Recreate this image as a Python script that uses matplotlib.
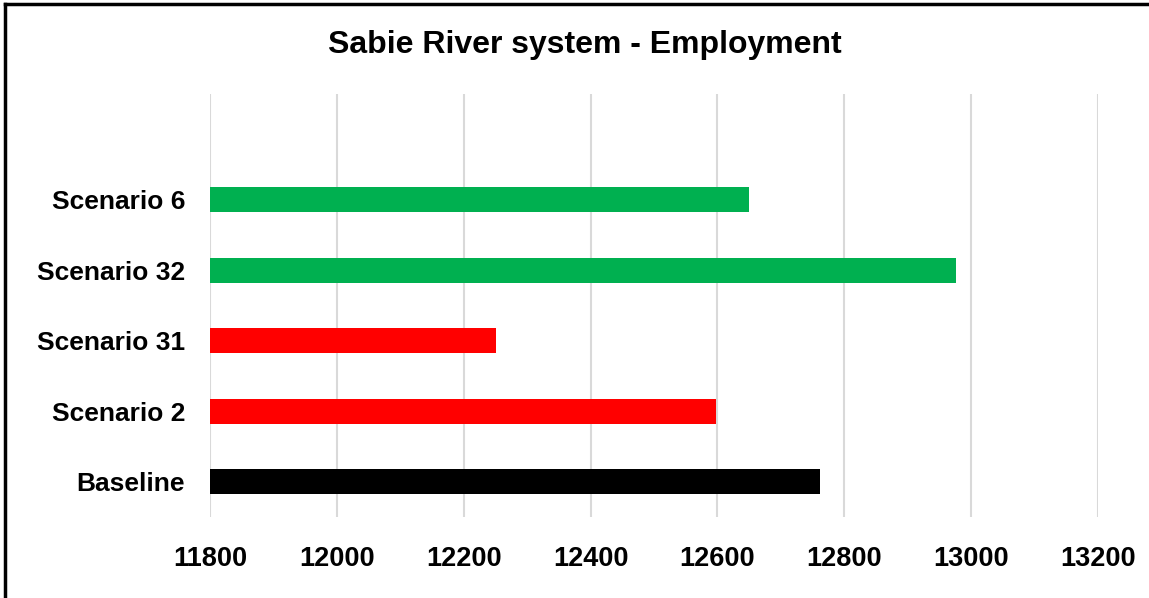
import matplotlib

matplotlib.use("Agg")
import matplotlib.pyplot as plt
from matplotlib.lines import Line2D

# data (bottom to top)
categories = ["Baseline", "Scenario 2", "Scenario 31", "Scenario 32", "Scenario 6"]
employment = [12762, 12598, 12251, 12976, 12650]
bar_colors = ["#000000", "#ff0000", "#ff0000", "#00b050", "#00b050"]
x_ticks = [11800, 12000, 12200, 12400, 12600, 12800, 13000, 13200]

plt.rcParams["font.family"] = ["Liberation Sans", "DejaVu Sans"]

fig = plt.figure(figsize=(11.49, 5.98), dpi=100)
ax = fig.add_axes([210 / 1149, 1 - 517 / 598, 888 / 1149, 423 / 598])

ys = list(range(len(categories)))
ax.barh(ys, [v - x_ticks[0] for v in employment], left=x_ticks[0],
        height=0.35, color=bar_colors, zorder=3)

ax.set_xlim(x_ticks[0], x_ticks[-1])
ax.set_ylim(-0.5, len(categories) + 0.5)  # empty slot above the top bar
ax.set_xticks(x_ticks)
ax.set_xticklabels([str(t) for t in x_ticks], fontsize=19.5, fontweight="bold")
ax.set_yticks(ys)
ax.set_yticklabels(categories, fontsize=19, fontweight="bold")
ax.tick_params(axis="x", length=0, pad=21)
ax.tick_params(axis="y", length=0, pad=18)
ax.grid(axis="x", color="#d9d9d9", linewidth=1.5, zorder=0)
for s in ax.spines.values():
    s.set_visible(False)

fig.text(0.509, 1 - 45 / 598, "Sabie River system - Employment",
         ha="center", va="center", fontsize=23, fontweight="bold")

# chart-area frame, only top and left edges are visible
fig.add_artist(Line2D([5 / 1149, 1], [1 - 4 / 598] * 2, color="black", lw=2.5))
fig.add_artist(Line2D([5 / 1149] * 2, [0, 1 - 4 / 598], color="black", lw=2.5))

fig.savefig("out.png", dpi=100)
